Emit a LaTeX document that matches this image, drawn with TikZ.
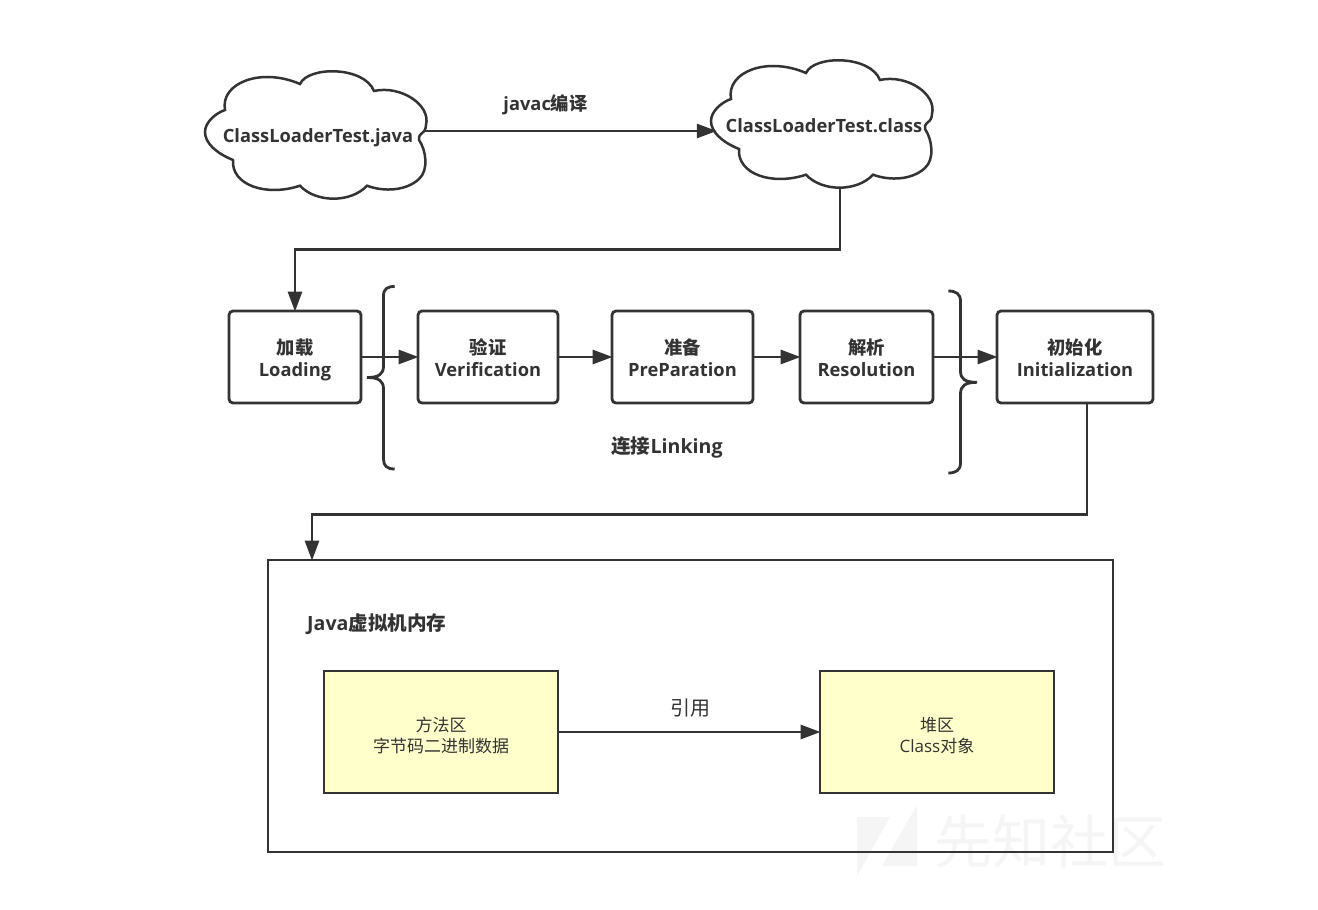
\documentclass[tikz,border=0pt]{standalone}
\usepackage{fontspec}
\setmainfont{Open Sans}
\newfontfamily\cjk{Noto Sans CJK SC}
\usetikzlibrary{arrows.meta}
\definecolor{ink}{HTML}{333333}
\definecolor{notefill}{HTML}{FFFFCC}
\definecolor{faint}{HTML}{F5F5F5}
% Struts that keep every two-line box on the same baselines
\newcommand{\steptop}{\rule{0pt}{22pt}}
\newcommand{\stepend}{\rule[-5pt]{0pt}{5pt}}
\newcommand{\notetop}{\rule{0pt}{21pt}}
\tikzset{
  line/.style={draw=ink,line width=2.8pt},
  link/.style={line,shorten >=-2pt,-{Triangle[length=20pt,width=14pt]}},
  stepbox/.style={line,rounded corners=4pt,inner sep=0pt,align=center,text=ink,
    minimum height=92pt,font=\fontsize{18.3}{22}\selectfont\bfseries},
  notebox/.style={line,fill=notefill,inner sep=0pt,align=center,text=ink,
    minimum width=234pt,minimum height=122pt,font=\fontsize{17}{21}\selectfont},
  label/.style={inner sep=0pt,text=ink,font=\fontsize{18.3}{22}\selectfont\bfseries},
  biglabel/.style={label,font=\fontsize{19.6}{24}\selectfont\bfseries},
  cloudlabel/.style={label,minimum width=222pt},
}
% Cloud outline, given relative to the middle of the cloud
\newcommand{\cloudoutline}[1]{%
  \draw[line,line width=2.5pt,shift={(#1)}]
    (-91,-25) .. controls (-96,-52) and (-55,-68) .. (-16,-51)
    .. controls (-8,-69) and (48,-69) .. (58,-44)
    .. controls (85,-50) and (115,-30) .. (110,-10)
    .. controls (110,-6) and (108,-3) .. (106,-2)
    .. controls (103,1) and (102,3) .. (103,5)
    .. controls (110,15) and (113,35) .. (103,44)
    .. controls (90,56) and (68,57) .. (51,50.7)
    .. controls (35,68) and (0,68) .. (-16,50.7)
    .. controls (-50,62) and (-85,50) .. (-83,25)
    .. controls (-100,18) and (-111,8) .. (-111,-3)
    .. controls (-111,-13) and (-100,-22) .. (-91,-25) -- cycle;%
}
\begin{document}
\begin{tikzpicture}[x=1pt,y=-1pt]
\useasboundingbox (0,0) rectangle (1318,910);

% Site mark behind the diagram
\fill[faint] (857,817) -- (890,817) -- (857,876) -- cycle;
\fill[faint] (917,805) -- (917,866) -- (882,866) -- cycle;
\node[inner sep=0pt,text=faint,font=\fontsize{58}{62}\selectfont] (mark) at (1050,842) {\cjk 先知社区};

% Source and class files
\cloudoutline{316,135}
\cloudoutline{822,124}
\node[cloudlabel,minimum height=126pt] (javaCloud) at (318,138) {ClassLoaderTest.java};
\node[cloudlabel,minimum height=122pt] (classCloud) at (824,126) {ClassLoaderTest.class};
\node[label] (javac) at (545.5,105) {javac{\cjk 编译}};

% Class loading stages
\node[stepbox,minimum width=132pt] (load) at (295,357) {\steptop{\cjk 加载}\\Loading\stepend};
\node[stepbox,minimum width=140pt] (verify) at (488,357) {\steptop{\cjk 验证}\\Verification\stepend};
\node[stepbox,minimum width=141pt] (prep) at (682.5,357) {\steptop{\cjk 准备}\\PreParation\stepend};
\node[stepbox,minimum width=133pt] (resolve) at (866.5,357) {\steptop{\cjk 解析}\\Resolution\stepend};
\node[stepbox,minimum width=156pt] (init) at (1075,357) {\steptop{\cjk 初始化}\\Initialization\stepend};
\node[biglabel] (linking) at (667,447) {{\cjk 连接}Linking};

% Braces around the linking stages
\draw[line] (394.7,286.5) .. controls (387,286.5) and (383.5,289) .. (383.5,296)
  -- (383.5,366) .. controls (383.5,374) and (379,377.5) .. (367,377.5)
  .. controls (379,377.5) and (383.5,381) .. (383.5,389)
  -- (383.5,459) .. controls (383.5,466) and (387,469) .. (394.7,469);
\draw[line] (948.3,291) .. controls (956,291) and (960.5,294) .. (960.5,301)
  -- (960.5,371) .. controls (960.5,379) and (965,382.3) .. (977,382.3)
  .. controls (965,382.3) and (960.5,386) .. (960.5,394)
  -- (960.5,463) .. controls (960.5,470) and (956,473) .. (948.3,473);

% Memory area
\node[line,minimum width=845pt,minimum height=292pt,inner sep=0pt] (memory) at (690.5,706) {};
\node[biglabel,anchor=west] (memtitle) at (307,624) {Java{\cjk 虚拟机内存}};
\node[notebox] (method) at (441,732) {\notetop{\cjk 方法区}\\{\cjk 字节码二进制数据}};
\node[notebox] (heap) at (937,732) {\notetop{\cjk 堆区}\\Class{\cjk 对象}};
\node[inner sep=0pt,text=ink,font=\fontsize{20}{24}\selectfont] (ref) at (690,708) {\cjk 引用};

% Connectors
\draw[link] ([xshift=-4pt,yshift=7pt]javaCloud.east) -- ([xshift=2pt,yshift=-5pt]classCloud.west);
\draw[link] ([xshift=16pt]classCloud.south) -- ++(0,62) -| (load.north);
\draw[link] (load.east) -- (verify.west);
\draw[link] (verify.east) -- (prep.west);
\draw[link] (prep.east) -- (resolve.west);
\draw[link] (resolve.east) -- (init.west);
\draw[link] ([xshift=12pt]init.south) -- ++(0,110) -| ([xshift=-378.5pt]memory.north);
\draw[link] (method.east) -- (heap.west);
\end{tikzpicture}
\end{document}
